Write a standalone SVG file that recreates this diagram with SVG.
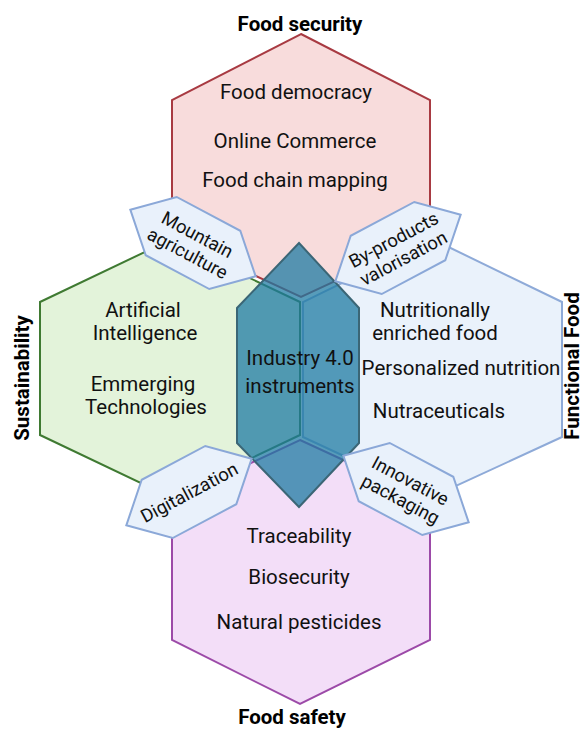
<svg xmlns="http://www.w3.org/2000/svg" width="584" height="729" viewBox="0 0 584 729">
  <style>
    .hex { stroke-width: 2; stroke-linejoin: miter; }
    .t { font-family: Roboto, "Liberation Sans", sans-serif; font-size: 20.5px; fill: #111; text-anchor: middle; }
    .s { font-family: Roboto, "Liberation Sans", sans-serif; font-size: 18.5px; fill: #111; text-anchor: middle; }
    .h { font-family: Roboto, "Liberation Sans", sans-serif; font-size: 20.5px; font-weight: bold; fill: #000; text-anchor: middle; }
    .tag { fill: #e9f1fb; stroke: #8ba8d8; stroke-width: 2; }
  </style>
  <defs>
    <polygon id="tagShape" points="-71,0 -36,-33 36,-33 71,0 36,33 -36,33"/>
  </defs>

  <!-- Food security -->
  <g id="food-security">
    <polygon class="hex" points="301,34 430,100 430,237 301,297 172,237 172,100" fill="#f8dcdc" stroke="#a83a42"/>
    <text class="t" x="296" y="99">Food democracy</text>
    <text class="t" x="295" y="148">Online Commerce</text>
    <text class="t" x="295" y="187">Food chain mapping</text>
  </g>

  <!-- Sustainability -->
  <g id="sustainability">
    <polygon class="hex" points="170,240 300,302 300,435 170,497 40,435 40,302" fill="#e3f3da" stroke="#3f7a32"/>
    <text class="t" x="143" y="317">Artificial</text>
    <text class="t" x="145" y="340">Intelligence</text>
    <text class="t" x="143" y="391">Emmerging</text>
    <text class="t" x="146" y="414">Technologies</text>
  </g>

  <!-- Functional Food -->
  <g id="functional-food">
    <polygon class="hex" points="432,239 562,302 562,437 432,497 303,437 303,302" fill="#eaf2fb" stroke="#8eaad8"/>
    <text class="t" x="435" y="317">Nutritionally</text>
    <text class="t" x="435" y="340">enriched food</text>
    <text class="t" x="461" y="375">Personalized nutrition</text>
    <text class="t" x="439" y="418">Nutraceuticals</text>
  </g>

  <!-- Food safety -->
  <g id="food-safety">
    <polygon class="hex" points="300,440 430,500 430,640 300,704 172,640 172,500" fill="#f3def8" stroke="#9c4aa8"/>
    <text class="t" x="299" y="543">Traceability</text>
    <text class="t" x="299" y="584">Biosecurity</text>
    <text class="t" x="299" y="629">Natural pesticides</text>
  </g>

  <!-- Industry 4.0 centre -->
  <g id="industry">
    <polygon points="299,243 359,308 359,443 299,507 237,443 237,308" fill="#1d7aa2" fill-opacity="0.74" stroke="#3b6676" stroke-width="2"/>
    <text class="t" x="300" y="365">Industry 4.0</text>
    <text class="t" x="300" y="393">instruments</text>
  </g>

  <!-- Bridge tags between neighbouring hexagons -->
  <g id="mountain-agriculture" transform="translate(193,243) rotate(28)">
    <use href="#tagShape" class="tag"/>
    <text class="s" x="0" y="-3">Mountain</text>
    <text class="s" x="0" y="18">agriculture</text>
  </g>
  <g id="by-products" transform="translate(398,248) rotate(-28)">
    <use href="#tagShape" class="tag"/>
    <text class="s" x="0" y="-3">By-products</text>
    <text class="s" x="0" y="18">valorisation</text>
  </g>
  <g id="digitalization" transform="translate(189,492) rotate(-28)">
    <use href="#tagShape" class="tag"/>
    <text class="s" x="0" y="7">Digitalization</text>
  </g>
  <g id="innovative-packaging" transform="translate(406,489) rotate(28)">
    <use href="#tagShape" class="tag"/>
    <text class="s" x="0" y="-3">Innovative</text>
    <text class="s" x="0" y="18">packaging</text>
  </g>

  <!-- Axis titles -->
  <g id="titles">
    <text class="h" x="300" y="31">Food security</text>
    <text class="h" x="292" y="724">Food safety</text>
    <text class="h" transform="translate(29,378) rotate(-90)">Sustainability</text>
    <text class="h" transform="translate(579,366) rotate(-90)">Functional Food</text>
  </g>

  <g id="connectors"></g>
</svg>
